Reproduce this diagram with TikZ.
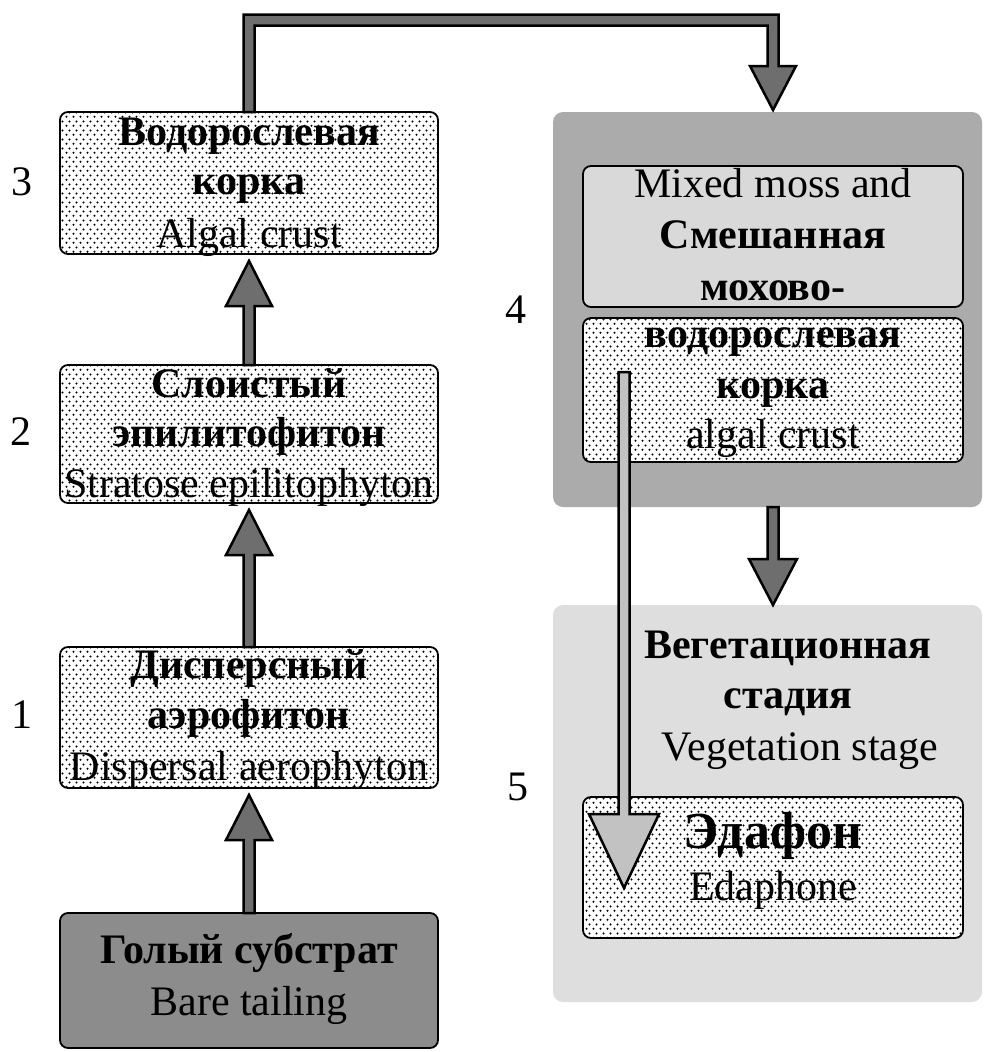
\documentclass[tikz,border=0pt]{standalone}
\usepackage{fontspec}
\setmainfont{Liberation Serif}
\usetikzlibrary{patterns.meta,calc}
\tikzdeclarepattern{
  name=stipple,
  type=uncolored,
  bottom left={(0pt,0pt)},
  top right={(6.5pt,9.4pt)},
  tile size={(6.5pt,9.4pt)},
  code={
    \pgfpathcircle{\pgfpoint{1.6pt}{2.3pt}}{1.2pt}
    \pgfpathcircle{\pgfpoint{4.85pt}{7pt}}{1.2pt}
    \pgfusepath{fill}
  }
}
\definecolor{arrowdark}{gray}{0.43}
\definecolor{arrowlight}{gray}{0.76}
\definecolor{bgdark}{gray}{0.67}
\definecolor{bglight}{gray}{0.87}
\definecolor{innerlight}{gray}{0.85}
\definecolor{baregray}{gray}{0.55}
\tikzset{
  box/.style={draw=black, line width=1.8pt, rounded corners=8pt, inner sep=0pt, outer sep=0pt, minimum width=378pt},
  dotbox/.style={box, fill=white, postaction={pattern=stipple, pattern color=black}},
  panel/.style={draw=none, rounded corners=10pt, inner sep=0pt, outer sep=0pt},
  ru/.style={font=\fontsize{42}{42}\selectfont\bfseries, anchor=base, inner sep=0pt},
  en/.style={font=\fontsize{42}{42}\selectfont, anchor=base, inner sep=0pt},
  num/.style={font=\fontsize{42}{42}\selectfont, anchor=base, inner sep=0pt},
  arrowline/.style={draw=black, line width=2.5pt, line join=miter}
}
\newcommand\vArrow[6]{%
  \filldraw[arrowline, fill=#1] let \p1=(#2), \p2=(#3), \n1={ifthenelse(\y2>\y1,1,-1)} in
   ({\x1-#4},{\y1}) -- ({\x1-#4},{\y2-(\n1)*#6}) -- ({\x1-#5},{\y2-(\n1)*#6}) -- ({\x1},{\y2})
   -- ({\x1+#5},{\y2-(\n1)*#6}) -- ({\x1+#4},{\y2-(\n1)*#6}) -- ({\x1+#4},{\y1}) -- cycle;}
\begin{document}
\begin{tikzpicture}[x=1pt,y=-1pt]
\useasboundingbox (0,0) rectangle (984,1052);
% panels
\node[panel, fill=bgdark, minimum width=429pt, minimum height=395pt] (b4) at (767.5,309.5) {};
\node[panel, fill=bglight, minimum width=429pt, minimum height=397pt] (b5) at (767.5,803.5) {};
% boxes
\node[dotbox, minimum height=142pt] (b3) at (249,183) {};
\node[dotbox, minimum height=138pt] (b2) at (249,434) {};
\node[dotbox, minimum height=141pt] (b1) at (249,717.5) {};
\node[box, fill=baregray, minimum height=135pt] (b0) at (249,980.5) {};
\node[box, fill=innerlight, minimum width=380pt, minimum height=141pt] (b4a) at (773,236.5) {};
\node[dotbox, minimum width=380pt, minimum height=144pt] (b4b) at (773,390) {};
\node[dotbox, minimum width=380pt, minimum height=141pt] (b5a) at (773,867.5) {};
% texts
\node[ru] (t3a) at (249,145) {Водорослевая};
\node[ru] (t3b) at (249,194) {корка};
\node[en] (t3c) at (249,247) {Algal crust};
\node[ru] (t2a) at (249,397) {Слоистый};
\node[ru] (t2b) at (249,446) {эпилитофитон};
\node[en] (t2c) at (249,497) {Stratose epilitophyton};
\node[ru] (t1a) at (249,678) {Дисперсный};
\node[ru] (t1b) at (249,728) {аэрофитон};
\node[en] (t1c) at (249,780) {Dispersal aerophyton};
\node[ru] (t0a) at (249,963) {Голый субстрат};
\node[en] (t0b) at (249,1015) {Bare tailing};
\node[en] (t4a) at (773,197) {Mixed moss and};
\node[ru] (t4b) at (773,248) {Смешанная};
\node[ru] (t4c) at (773,300) {мохово-};
\node[ru] (t4d) at (773,347) {водорослевая};
\node[ru] (t4e) at (773,398) {корка};
\node[en] (t4f) at (773,448) {algal crust};
\node[ru] (t5a) at (788,658) {Вегетационная};
\node[ru] (t5b) at (788,708) {стадия};
\node[en] (t5c) at (800,760) {Vegetation stage};
\node[ru, font=\fontsize{52}{52}\selectfont\bfseries] (t5d) at (773,848) {Эдафон};
\node[en] (t5e) at (773,900) {Edaphone};
% numbers
\node[num] (n3) at (22,195) {3};
\node[num] (n2) at (21,445) {2};
\node[num] (n1) at (22,728) {1};
\node[num] (n4) at (516,323) {4};
\node[num] (n5) at (518,800) {5};
% arrows
\vArrow{arrowdark}{b0.north}{$(b1.south)+(0,7)$}{5.5pt}{23pt}{45pt}
\vArrow{arrowdark}{b1.north}{$(b2.south)+(0,7)$}{5.5pt}{23pt}{45pt}
\vArrow{arrowdark}{b2.north}{$(b3.south)+(0,7)$}{5.5pt}{23pt}{45pt}
\vArrow{arrowdark}{b4a.center |- b4.south}{b4a.center |- b5.north}{5.5pt}{24pt}{46pt}
\coordinate (top) at (0,20);
\filldraw[arrowline, fill=arrowdark] let \p1=(b3.north), \p2=(b4a.center |- b4.north), \p3=(top) in
 ({\x1-5.5pt},{\y1}) -- ({\x1-5.5pt},{\y3+5.5pt}) -- ({\x2+5.5pt},{\y3+5.5pt}) -- ({\x2+5.5pt},{\y2+46pt})
 -- ({\x2+23pt},{\y2+46pt}) -- ({\x2},{\y2+2pt}) -- ({\x2-23pt},{\y2+46pt}) -- ({\x2-5.5pt},{\y2+46pt})
 -- ({\x2-5.5pt},{\y3-5.5pt}) -- ({\x1+5.5pt},{\y3-5.5pt}) -- ({\x1+5.5pt},{\y1}) -- cycle;
\coordinate (la) at (624,372);
\coordinate (lb) at (624,888);
\vArrow{arrowlight}{la}{lb}{5.5pt}{35pt}{74pt}
\end{tikzpicture}
\end{document}
